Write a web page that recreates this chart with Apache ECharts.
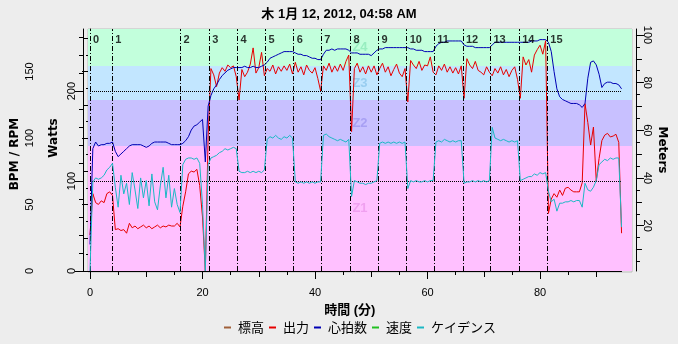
<!DOCTYPE html>
<html><head><meta charset="utf-8">
<script src="https://cdn.jsdelivr.net/npm/echarts@6/dist/echarts.min.js"></script>
<style>html,body{margin:0;padding:0;background:#ededed}#c{width:678px;height:344px}</style>
</head><body><div id="c"></div>
<script>
// ---------------- data ----------------
const TITLE = '木 1月 12, 2012, 04:58 AM';
const SERIES_NAMES = ['標高', '出力', '心拍数', '速度', 'ケイデンス'];
const STEP_MIN = 0.5; // sample spacing (minutes)

const POWER = [
  40, 86, 76, 74, 78, 76, 86, 88, 84, 46,
  47, 45, 46, 42, 53, 48, 50, 47, 49, 51,
  48, 50, 47, 49, 51, 48, 50, 49, 51, 50,
  50, 53, 49, 72, 88, 108, 111, 110, 113, 95,
  60, 0, 150, 225, 218, 205, 220, 226, 222, 229,
  226, 228, 216, 190, 224, 216, 221, 230, 248, 220,
  226, 243, 217, 225, 222, 229, 219, 227, 222, 228,
  223, 230, 219, 232, 221, 227, 218, 229, 223, 220,
  226, 214, 200, 228, 223, 231, 221, 228, 222, 230,
  223, 233, 240, 155, 225, 231, 221, 227, 219, 228,
  221, 228, 218, 225, 231, 221, 227, 217, 224, 230,
  220, 216, 225, 188, 234, 229, 225, 233, 223, 229,
  228, 238, 221, 218, 228, 223, 230, 221, 227, 220,
  226, 219, 228, 192, 236, 229, 225, 233, 223, 221,
  218, 227, 221, 217, 225, 220, 227, 218, 224, 216,
  223, 227, 213, 192, 238, 229, 235, 221, 240, 246,
  251, 241, 256, 64, 80, 86, 82, 90, 84, 92,
  93, 90, 88, 88, 88, 98, 186, 165, 140, 160,
  100, 125, 145, 151, 153, 149, 150, 152, 143, 42
];
const HEART_RATE = [
  20, 92, 97, 94, 95, 95, 96, 96, 97, 90,
  86, 88, 90, 92, 94, 95, 95, 95, 95, 94,
  93, 94, 96, 97, 97, 97, 97, 97, 96, 95,
  95, 95, 95, 96, 98, 101, 106, 109, 110, 112,
  114, 82, 124, 132, 137, 140, 144, 147, 149, 151,
  152, 153, 153, 153, 153, 154, 153, 153, 154, 153,
  153, 154, 155, 157, 160, 161, 162, 163, 164, 165,
  165, 165, 165, 164, 163, 163, 162, 162, 161, 160,
  160, 159, 159, 163, 166, 166, 167, 166, 167, 167,
  167, 167, 166, 164, 164, 164, 163, 163, 163, 163,
  162, 164, 166, 167, 167, 168, 168, 168, 168, 168,
  168, 168, 168, 168, 167, 167, 166, 166, 166, 165,
  165, 165, 165, 169, 171, 172, 172, 173, 173, 173,
  173, 173, 173, 170, 169, 169, 169, 168, 168, 168,
  168, 168, 168, 170, 172, 172, 172, 172, 172, 172,
  172, 172, 172, 172, 172, 172, 172, 173, 173, 173,
  174, 174, 174, 172, 165, 150, 137, 131, 129, 128,
  127, 126, 126, 126, 125, 123, 126, 145, 157, 158,
  155, 148, 138, 141, 142, 142, 141, 141, 140, 137
];
const CADENCE = [
  0, 67, 70, 69, 70, 72, 76, 78, 81, 63,
  48, 72, 58, 66, 50, 74, 61, 47, 70, 55,
  68, 49, 73, 52, 46, 64, 78, 55, 72, 48,
  62, 50, 44, 80, 84, 85, 85, 84, 85, 81,
  50, 0, 80, 85, 86, 87, 89, 90, 92, 91,
  92, 93, 92, 75, 74, 74, 75, 74, 75, 74,
  75, 74, 76, 99, 101, 100, 102, 100, 99, 101,
  100, 102, 100, 67, 66, 67, 66, 67, 66, 67,
  66, 67, 67, 102, 103, 101, 100, 99, 98, 99,
  98, 97, 99, 56, 68, 67, 66, 66, 65, 66,
  66, 67, 68, 96, 97, 96, 97, 96, 97, 96,
  97, 96, 97, 62, 68, 67, 68, 67, 67, 68,
  67, 68, 68, 97, 98, 97, 99, 98, 97, 98,
  97, 98, 98, 66, 67, 67, 68, 67, 68, 67,
  68, 67, 68, 108, 100, 99, 98, 99, 98, 97,
  98, 97, 98, 68, 69, 70, 71, 71, 73, 72,
  74, 73, 74, 60, 52, 54, 45, 51, 51, 52,
  52, 53, 52, 53, 53, 48, 66, 61, 60, 63,
  68, 80, 82, 84, 83, 85, 84, 85, 85, 33
];
const ALTITUDE = [];
const SPEED = [];

const LAP_TIMES = [0, 3.96, 16.1, 21.2, 26.2, 31.2, 36.2, 41.1, 46.3, 51.3, 56.3, 61.2, 66.3, 71.2, 76.3, 81.3];
const LAP_LABELS = ['0','1','2','3','4','5','6','7','8','9','10','11','12','13','14','15'];

const ZONE_NAMES = ['Z1', 'Z2', 'Z3', 'Z4'];
const ZONE_BOUNDS_W = [0, 139, 190, 228, 270];

const X_TICKS = [0, 20, 40, 60, 80];
const BPM_TICKS = [0, 50, 100, 150];
const WATT_TICKS = [0, 100, 200];
const METER_TICKS = [20, 40, 60, 80, 100];
const WATT_GRID = [0, 100, 200];

// ---------------- ranges / styles ----------------
const X_MAX = 94.5, BPM_MAX = 182, WATT_MAX = 269, M_MIN = 1, M_MAX = 102.5;
const COLORS = { alt: '#a0603a', power: '#e60000', hr: '#0000b4', speed: '#22c022', cad: '#1cb8c4' };
const ZONE_FILL = ['#ffc0ff', '#c8c0ff', '#c2e6ff', '#c2ffdc'];
const ZONE_TEXT = ['#f0a0f0', '#a8a0f4', '#98cdf0', '#98eec0'];
const NUM_FONT = '"Liberation Sans", "Noto Sans CJK JP", sans-serif';
const BOLD_FONT = '"DejaVu Sans", sans-serif';
const CJK_FONT = '"Noto Sans CJK JP", sans-serif';

function stepTicks(lo, hi, step, skipStep) {
  const out = [];
  for (let v = lo; v <= hi + 1e-9; v += step) {
    const r = Math.round(v * 1000) / 1000;
    if (skipStep && Math.abs(r / skipStep - Math.round(r / skipStep)) < 1e-6) continue;
    out.push(r);
  }
  return out;
}
const toXY = arr => arr.map((v, i) => [i * STEP_MIN, v]);

const tickOnlyAxis = (base, values, len) => Object.assign({}, base, {
  axisLine: { show: false }, axisLabel: { show: false }, splitLine: { show: false },
  axisTick: { show: true, customValues: values, length: len, lineStyle: { color: '#000' } }
});

const xBase = { type: 'value', gridIndex: 0, min: 0, max: X_MAX, position: 'bottom', offset: 5 };
const bpmBase = { type: 'value', gridIndex: 0, min: 0, max: BPM_MAX, position: 'left', offset: 49 };
const wattBase = { type: 'value', gridIndex: 0, min: 0, max: WATT_MAX, position: 'left', offset: 7 };
const mBase = { type: 'value', gridIndex: 0, min: M_MIN, max: M_MAX, position: 'right', offset: 14.4 };

const chart = echarts.init(document.getElementById('c'), null, { renderer: 'canvas' });
chart.setOption({
  animation: false,
  backgroundColor: '#ededed',
  title: { text: TITLE, left: 'center', top: 3,
    textStyle: { fontFamily: NUM_FONT, fontSize: 13, fontWeight: 'bold', color: '#000' } },
  legend: {
    data: SERIES_NAMES, left: 219, top: 316, icon: 'rect', itemWidth: 7, itemHeight: 2, itemGap: 5,
    textStyle: { fontFamily: CJK_FONT, fontSize: 13, color: '#000', padding: [0, 0, 0, 2] }
  },
  grid: [
    { left: 90, top: 29, width: X_MAX * 5.625, height: 242, show: false, containLabel: false, outerBoundsMode: 'none' },
    { left: 88, top: 29, width: 544, height: 243, show: true, borderColor: '#bcbcbc', borderWidth: 1,
      backgroundColor: 'transparent', z: 0, containLabel: false, outerBoundsMode: 'none' }
  ],
  xAxis: [
    Object.assign({}, xBase, {
      axisLine: { show: true, lineStyle: { color: '#000', width: 1 } },
      axisTick: { show: true, customValues: X_TICKS, length: 8, lineStyle: { color: '#000' } },
      axisLabel: { customValues: X_TICKS, margin: 11, fontFamily: NUM_FONT, fontSize: 11, color: '#000' },
      splitLine: { show: false },
      name: '時間 (分)', nameLocation: 'middle', nameGap: 28, nameMoveOverlap: false,
      nameTextStyle: { fontFamily: NUM_FONT, fontSize: 13, fontWeight: 'bold', color: '#000', padding: [0, 12, 0, 0] }
    }),
    tickOnlyAxis(xBase, stepTicks(10, 90, 20), 6),
    tickOnlyAxis(xBase, stepTicks(5, 90, 10), 4),
    { type: 'value', gridIndex: 1, min: 0, max: 1, show: false }
  ],
  yAxis: [
    Object.assign({}, bpmBase, {
      axisLine: { show: true, lineStyle: { color: '#000' } },
      axisTick: { show: true, customValues: BPM_TICKS, length: 8, lineStyle: { color: '#000' } },
      axisLabel: { customValues: BPM_TICKS, rotate: 90, margin: 6, fontFamily: NUM_FONT, fontSize: 11, color: '#000' },
      splitLine: { show: false },
      name: 'BPM / RPM', nameLocation: 'middle', nameRotate: 90, nameGap: 20, nameMoveOverlap: false,
      nameTextStyle: { fontFamily: BOLD_FONT, fontSize: 12, fontWeight: 'bold', color: '#000', padding: [0, 8, 0, 0] }
    }),
    tickOnlyAxis(bpmBase, stepTicks(25, 175, 50), 6),
    tickOnlyAxis(bpmBase, stepTicks(12.5, 175, 25), 4),
    Object.assign({}, wattBase, {
      axisLine: { show: true, lineStyle: { color: '#000' } },
      axisTick: { show: true, customValues: WATT_TICKS, length: 8, lineStyle: { color: '#000' } },
      axisLabel: { customValues: WATT_TICKS, rotate: 90, margin: 6, fontFamily: NUM_FONT, fontSize: 11, color: '#000' },
      splitLine: { show: false },
      name: 'Watts', nameLocation: 'middle', nameRotate: 90, nameGap: 23, nameMoveOverlap: false,
      nameTextStyle: { fontFamily: BOLD_FONT, fontSize: 12, fontWeight: 'bold', color: '#000', padding: [0, 0, 0, 24] }
    }),
    tickOnlyAxis(wattBase, stepTicks(20, 260, 20, 100), 4),
    Object.assign({}, mBase, {
      axisLine: { show: true, lineStyle: { color: '#000' } },
      axisTick: { show: true, customValues: METER_TICKS, length: 8, lineStyle: { color: '#000' } },
      axisLabel: { customValues: METER_TICKS, rotate: -90, margin: 6, fontFamily: NUM_FONT, fontSize: 11, color: '#000' },
      splitLine: { show: false },
      name: 'Meters', nameLocation: 'middle', nameRotate: -90, nameGap: 20, nameMoveOverlap: false,
      nameTextStyle: { fontFamily: BOLD_FONT, fontSize: 12, fontWeight: 'bold', color: '#000' }
    }),
    tickOnlyAxis(mBase, stepTicks(10, 100, 20), 6),
    tickOnlyAxis(mBase, stepTicks(5, 100, 10), 4),
    { type: 'value', gridIndex: 1, min: -1.1, max: WATT_MAX, show: false }
  ],
  series: [
    { // zone bands (background canvas)
      type: 'line', name: 'zones', xAxisIndex: 3, yAxisIndex: 8, data: [], silent: true, z: 0,
      markArea: {
        silent: true,
        data: ZONE_NAMES.map((z, i) => [
          { yAxis: ZONE_BOUNDS_W[i], name: z, itemStyle: { color: ZONE_FILL[i], opacity: 1 },
            label: { show: true, position: 'inside', color: ZONE_TEXT[i], fontFamily: NUM_FONT, fontSize: 13, fontWeight: 'bold' } },
          { yAxis: ZONE_BOUNDS_W[i + 1] }
        ])
      }
    },
    { name: SERIES_NAMES[0], type: 'line', xAxisIndex: 0, yAxisIndex: 5, data: ALTITUDE, showSymbol: false,
      lineStyle: { width: 1, color: COLORS.alt }, itemStyle: { color: COLORS.alt } },
    { name: SERIES_NAMES[1], type: 'line', xAxisIndex: 0, yAxisIndex: 3, data: toXY(POWER), showSymbol: false,
      lineStyle: { width: 1, color: COLORS.power }, itemStyle: { color: COLORS.power }, z: 3,
      markLine: { silent: true, symbol: ['none', 'none'], label: { show: false },
        lineStyle: { type: 'dotted', color: '#000', width: 1 },
        data: WATT_GRID.map(w => ({ yAxis: w })) } },
    { name: SERIES_NAMES[2], type: 'line', xAxisIndex: 0, yAxisIndex: 0, data: toXY(HEART_RATE), showSymbol: false,
      lineStyle: { width: 1, color: COLORS.hr }, itemStyle: { color: COLORS.hr }, z: 4,
      markLine: { silent: true, symbol: ['none', 'none'], label: { show: false },
        lineStyle: { type: [5, 2, 1, 2], color: '#000', width: 1 },
        data: LAP_TIMES.map(t => ({ xAxis: t })) } },
    { name: SERIES_NAMES[3], type: 'line', xAxisIndex: 0, yAxisIndex: 0, data: SPEED, showSymbol: false,
      lineStyle: { width: 1, color: COLORS.speed }, itemStyle: { color: COLORS.speed } },
    { name: SERIES_NAMES[4], type: 'line', xAxisIndex: 0, yAxisIndex: 0, data: toXY(CADENCE), showSymbol: false,
      lineStyle: { width: 1, color: COLORS.cad }, itemStyle: { color: COLORS.cad }, z: 5 },
    { // lap numbers
      type: 'scatter', name: 'laps', xAxisIndex: 0, yAxisIndex: 0, symbolSize: 0, silent: true, z: 6,
      data: LAP_TIMES.map((t, i) => ({ value: [t, BPM_MAX * 0.955], name: LAP_LABELS[i] })),
      label: { show: true, position: 'right', distance: 3, formatter: p => p.name,
        fontFamily: NUM_FONT, fontSize: 11, fontWeight: 'bold', color: '#000' }
    }
  ]
});
</script></body></html>
